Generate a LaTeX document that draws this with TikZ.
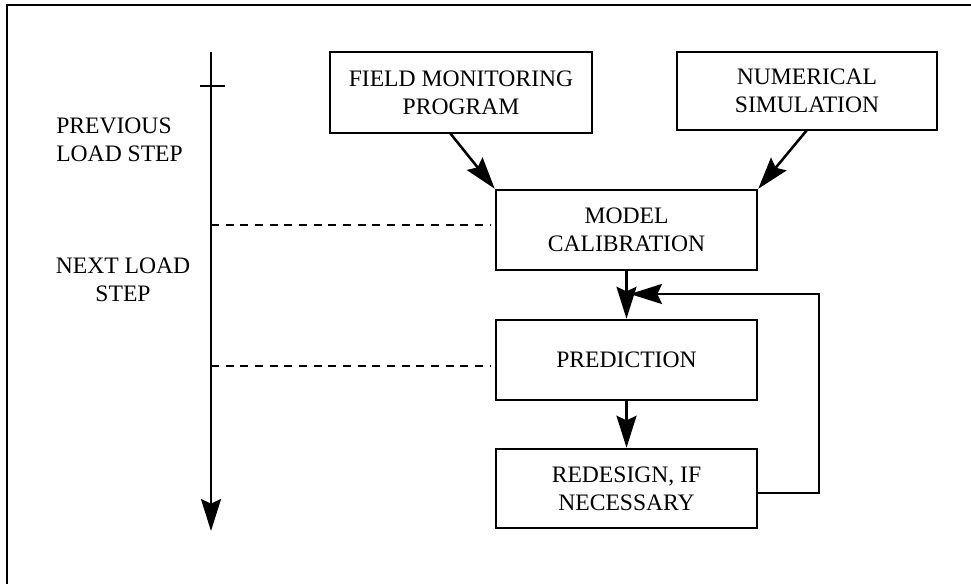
\documentclass[tikz,border=0pt]{standalone}
\usepackage{fontspec}
\setmainfont{Liberation Serif}
\usetikzlibrary{arrows.meta}
\begin{document}
\begin{tikzpicture}[x=0.75pt,y=-0.75pt,
  every node/.style={font=\fontsize{17.7}{21}\selectfont, inner sep=0pt},
  stagebox/.style={draw, line width=1.9pt, align=center},
  flow/.style={line width=1.9pt, -{Stealth[length=24pt,width=15pt,inset=3.5pt]}},
  guide/.style={line width=1.7pt, dash pattern=on 6pt off 5pt},
  frame/.style={line width=1.9pt}]
\useasboundingbox (0,0) rectangle (971,584);

% frame (left and top edges)
\draw[frame] (7,584) -- (7,5) -- (971,5);

% time axis with start tick
\coordinate (ttop) at (211,52);
\coordinate (tbot) at (211,531);
\coordinate (tickl) at (200,86);
\coordinate (tickr) at (225,86);
\draw[flow] (ttop) -- (tbot);
\draw[line width=1.9pt] (tickl) -- (tickr);

% load step labels
\node[anchor=west, align=left] (prev) at (56,139.5) {PREVIOUS\\LOAD STEP};
\node[align=center] (next) at (123,280) {NEXT LOAD\\STEP};

% boxes
\node[stagebox, minimum width=196.5pt, minimum height=60.75pt] (fmp) at (461,92.5) {FIELD MONITORING\\PROGRAM};
\node[stagebox, minimum width=195pt, minimum height=58.5pt] (ns) at (807,91) {NUMERICAL\\SIMULATION};
\node[stagebox, minimum width=195.75pt, minimum height=60pt] (mc) at (626.5,230) {MODEL\\CALIBRATION};
\node[stagebox, minimum width=195.75pt, minimum height=60pt] (pr) at (626.5,360) {PREDICTION};
\node[stagebox, minimum width=195.75pt, minimum height=59.25pt] (rd) at (626.5,488.5) {REDESIGN, IF\\NECESSARY};

% dashed guides from the axis to the boxes
\coordinate (g1a) at (211,225);
\coordinate (g1b) at (490,225);
\coordinate (g2a) at (211,366);
\coordinate (g2b) at (490,366);
\draw[guide] (g1a) -- (g1b);
\draw[guide] (g2a) -- (g2b);

% inputs to calibration
\coordinate (fmpout) at (450,133);
\coordinate (nsout) at (807,130);
\draw[flow] (fmpout) -- (mc.north west);
\draw[flow] (nsout) -- (mc.north east);

% main flow
\draw[flow] (mc.south) -- (pr.north);
\draw[flow] (pr.south) -- (rd.north);

% feedback loop
\coordinate (fb1) at (819,493);
\coordinate (fb2) at (819,294);
\coordinate (fbend) at (630,294);
\draw[flow] (757,493) -- (fb1) -- (fb2) -- (fbend);
\end{tikzpicture}
\end{document}
